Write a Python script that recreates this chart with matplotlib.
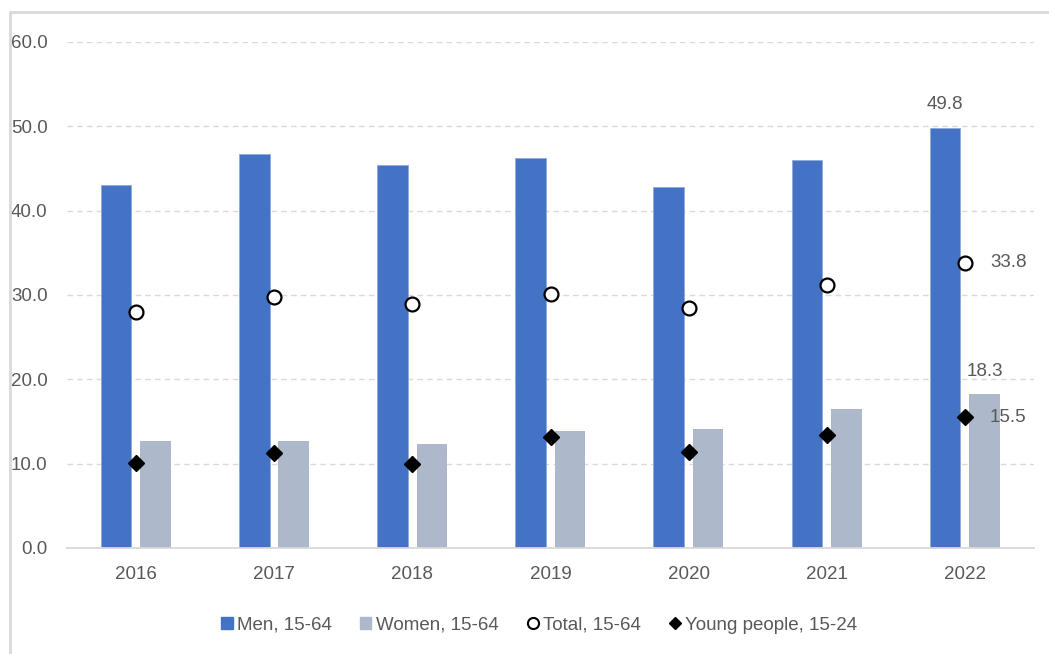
import numpy as np
import matplotlib.pyplot as plt
from matplotlib.lines import Line2D
from matplotlib.patches import Patch, Rectangle

plt.rcParams['font.family'] = ['Liberation Sans Narrow', 'Liberation Sans', 'DejaVu Sans']

years = ['2016', '2017', '2018', '2019', '2020', '2021', '2022']
men = [43.1, 46.7, 45.4, 46.2, 42.8, 46.0, 49.8]
women = [12.7, 12.7, 12.3, 13.9, 14.1, 16.5, 18.3]
total = [28.0, 29.8, 28.9, 30.1, 28.4, 31.2, 33.8]
young = [10.1, 11.3, 10.0, 13.2, 11.4, 13.4, 15.5]

text_col = '#595959'
men_col = '#4472C4'
women_col = '#ADB9CA'
fs = 13.5

fig = plt.figure(figsize=(10.49, 6.54), dpi=100)
ax = fig.add_axes([0.0639, 0.1621, 0.9218, 0.7737])

x = np.arange(len(years))
w = 0.221
ax.bar(x - 0.144, men, w, color=men_col, edgecolor='#8FAADC', linewidth=0.6, zorder=2)
ax.bar(x + 0.141, women, w, color=women_col, zorder=2)
ax.plot(x, total, 'o', ms=10, mfc='white', mec='black', mew=1.6, zorder=3)
ax.plot(x, young, 'D', ms=8.5, color='black', zorder=3)

# labels for the last year
i = len(years) - 1
ax.annotate(f'{men[i]:.1f}', (x[i] - 0.144, men[i]), xytext=(0, 11), textcoords='offset points',
            ha='center', va='bottom', fontsize=fs, color=text_col)
ax.annotate(f'{women[i]:.1f}', (x[i] + 0.141, women[i]), xytext=(0, 10), textcoords='offset points',
            ha='center', va='bottom', fontsize=fs, color=text_col)
ax.annotate(f'{total[i]:.1f}', (x[i], total[i]), xytext=(18, 0), textcoords='offset points',
            ha='left', va='center', fontsize=fs, color=text_col)
ax.annotate(f'{young[i]:.1f}', (x[i], young[i]), xytext=(18, 0), textcoords='offset points',
            ha='left', va='center', fontsize=fs, color=text_col)

ax.set_xlim(-0.5, 6.5)
ax.set_ylim(0, 60)
ax.set_yticks(np.arange(0, 61, 10))
ax.set_yticklabels([f'{v:.1f}' for v in np.arange(0, 61, 10)])
ax.set_xticks(x)
ax.set_xticklabels(years)
ax.tick_params(length=0, labelsize=fs, labelcolor=text_col)
ax.tick_params(axis='y', pad=14)
ax.tick_params(axis='x', pad=13)
ax.yaxis.grid(True, linestyle=(0, (4, 3)), color='#d9d9d9', linewidth=1)
ax.set_axisbelow(True)
for s in ['top', 'right', 'left']:
    ax.spines[s].set_visible(False)
ax.spines['bottom'].set_color('#d9d9d9')
ax.spines['bottom'].set_linewidth(1.3)

handles = [
    Patch(color=men_col, label='Men, 15-64'),
    Patch(color=women_col, label='Women, 15-64'),
    Line2D([], [], marker='o', ls='none', ms=8, mfc='white', mec='black', mew=1.5, label='Total, 15-64'),
    Line2D([], [], marker='D', ls='none', ms=6.5, color='black', label='Young people, 15-24'),
]
fig.legend(handles=handles, loc='center', bbox_to_anchor=(0.514, 0.044), ncol=4, frameon=False,
           fontsize=fs, labelcolor=text_col, handlelength=0.6, handleheight=0.6,
           handletextpad=0.25, columnspacing=1.5)

# light frame round the chart
fig.patches.append(Rectangle((10 / 1049, -0.5), 1.2, 1.5 - 12 / 654, transform=fig.transFigure,
                             fill=False, edgecolor='#d9d9d9', linewidth=2))

fig.savefig('out.png', dpi=100)
